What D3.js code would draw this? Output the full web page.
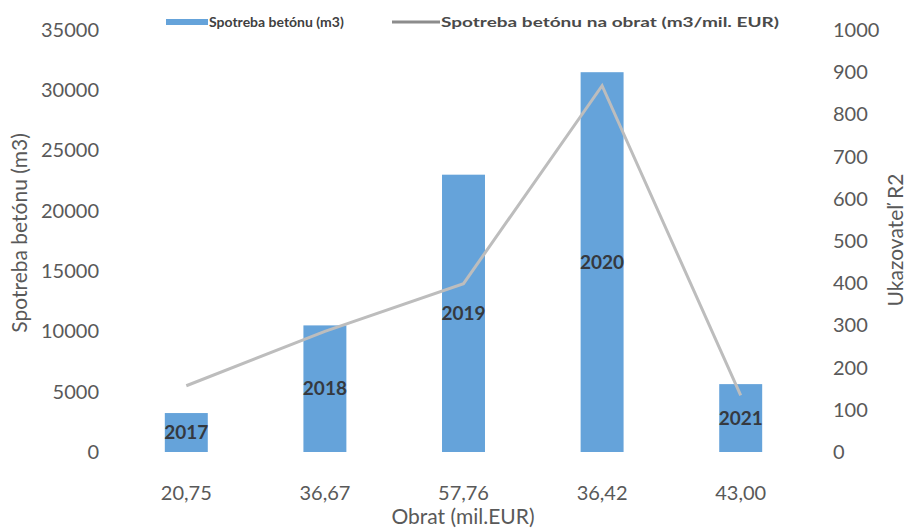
<!DOCTYPE html>
<html>
<head>
<meta charset="utf-8">
<script src="https://cdn.jsdelivr.net/npm/d3@7"></script>
<style>
  body { margin: 0; background: #fff; }
  svg text { font-family: Lato, "Open Sans", sans-serif; }
</style>
</head>
<body>
<div class="chart"></div>
<script>
// chart data
const years = ['2017', '2018', '2019', '2020', '2021'];
const turnover = ['20,75', '36,67', '57,76', '36,42', '43,00'];
const concrete = [3230, 10500, 23000, 31500, 5630];
const ratio = [157, 286, 399, 868, 134];
const legendNames = ['Spotreba betónu (m3)', 'Spotreba betónu na obrat (m3/mil. EUR)'];

const width = 910;
const height = 531;
const margin = {top: 30, right: 100, bottom: 79, left: 117};

const svg = d3.select('.chart')
   .append('svg')
   .attr('width', width)
   .attr('height', height);

const x = d3.scaleBand()
   .domain(years)
   .range([margin.left, width - margin.right])
   .paddingInner(0.69)
   .paddingOuter(0.345);

const yLeft = d3.scaleLinear()
   .domain([0, 35000])
   .range([height - margin.bottom, margin.top]);

const yRight = d3.scaleLinear()
   .domain([0, 1000])
   .range([height - margin.bottom, margin.top]);

const tickColor = '#595959';

// left axis
const leftAxis = svg.append('g')
   .attr('transform', `translate(${margin.left - 15},0)`)
   .call(d3.axisLeft(yLeft).ticks(7).tickSize(0).tickFormat(d3.format('d')));
leftAxis.select('.domain').remove();
leftAxis.selectAll('text')
   .attr('fill', tickColor)
   .style('font-size', '20px');

// right axis
const rightAxis = svg.append('g')
   .attr('transform', `translate(${width - margin.right + 20},0)`)
   .call(d3.axisRight(yRight).ticks(10).tickSize(0).tickFormat(d3.format('d')));
rightAxis.select('.domain').remove();
rightAxis.selectAll('text')
   .attr('fill', tickColor)
   .style('font-size', '20px');

// bottom axis
const bottomAxis = svg.append('g')
   .attr('transform', `translate(0,${height - margin.bottom + 41})`)
   .call(d3.axisBottom(x).tickSize(0).tickFormat((d, i) => turnover[i]));
bottomAxis.select('.domain').remove();
bottomAxis.selectAll('text')
   .attr('fill', tickColor)
   .attr('dy', '0.35em')
   .attr('y', 0)
   .style('font-size', '20px');

// bars
svg.selectAll('rect.bar')
   .data(concrete)
   .enter()
   .append('rect')
      .attr('class', 'bar')
      .attr('x', (d, i) => x(years[i]))
      .attr('width', x.bandwidth())
      .attr('y', d => yLeft(d))
      .attr('height', d => yLeft(0) - yLeft(d))
      .attr('fill', '#65a3da');

// line
const line = d3.line()
   .x((d, i) => x(years[i]) + x.bandwidth() / 2)
   .y(d => yRight(d));

svg.append('path')
   .datum(ratio)
   .attr('d', line)
   .attr('fill', 'none')
   .attr('stroke', '#bdbdbd')
   .attr('stroke-width', 3);

// year labels in the middle of the bars
svg.selectAll('text.year')
   .data(concrete)
   .enter()
   .append('text')
      .attr('class', 'year')
      .attr('x', (d, i) => x(years[i]) + x.bandwidth() / 2)
      .attr('y', d => yLeft(d / 2))
      .attr('dy', '0.35em')
      .attr('text-anchor', 'middle')
      .attr('fill', '#35393f')
      .style('font-size', '19px')
      .style('font-weight', 'bold')
      .text((d, i) => years[i]);

// axis titles
svg.append('text')
   .attr('transform', `translate(27,233) rotate(-90)`)
   .attr('text-anchor', 'middle')
   .attr('fill', tickColor)
   .style('font-size', '21px')
   .text('Spotreba betónu (m3)');

svg.append('text')
   .attr('transform', `translate(903,240) rotate(-90)`)
   .attr('text-anchor', 'middle')
   .attr('fill', tickColor)
   .style('font-size', '21px')
   .text('Ukazovateľ R2');

svg.append('text')
   .attr('x', 463)
   .attr('y', 517)
   .attr('dy', '0.35em')
   .attr('text-anchor', 'middle')
   .attr('fill', tickColor)
   .style('font-size', '21px')
   .text('Obrat (mil.EUR)');

// legend
const legend = svg.append('g');

legend.append('rect')
   .attr('x', 166)
   .attr('y', 19)
   .attr('width', 42)
   .attr('height', 6)
   .attr('fill', '#65a3da');

legend.append('text')
   .attr('x', 209)
   .attr('y', 22)
   .attr('dy', '0.35em')
   .attr('fill', '#404040')
   .style('font-size', '14px')
   .style('font-weight', 'bold')
   .text(legendNames[0]);

legend.append('line')
   .attr('x1', 392)
   .attr('x2', 440)
   .attr('y1', 22)
   .attr('y2', 22)
   .attr('stroke', '#8c8c8c')
   .attr('stroke-width', 3);

legend.append('text')
   .attr('x', 441)
   .attr('y', 22)
   .attr('dy', '0.35em')
   .attr('fill', '#4a4a4a')
   .attr('textLength', 338)
   .attr('lengthAdjust', 'spacingAndGlyphs')
   .style('font-size', '14px')
   .style('font-weight', 'bold')
   .text(legendNames[1]);
</script>
</body>
</html>
